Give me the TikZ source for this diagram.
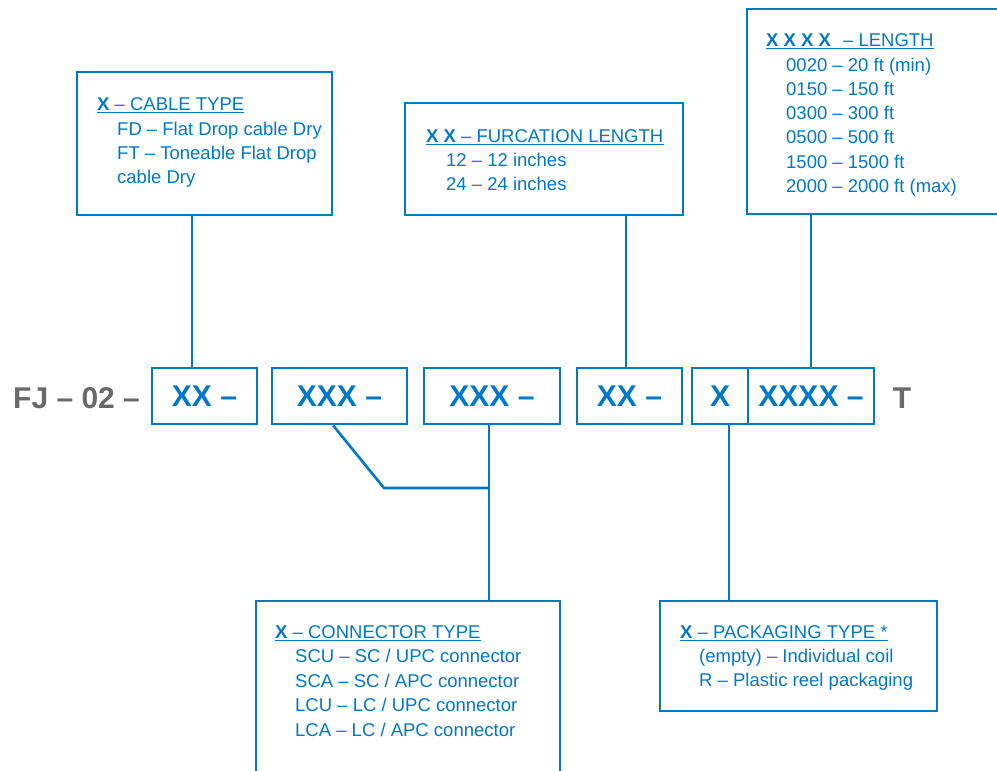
\documentclass[tikz,border=0pt]{standalone}
\usepackage{fontspec}
\setmainfont{Liberation Sans}
\definecolor{fjblue}{RGB}{0,120,200}
\definecolor{fjgray}{RGB}{105,105,105}
\begin{document}
\begin{tikzpicture}[x=1pt,y=-1pt,
  infobox/.style={draw=fjblue, line width=2.6pt, inner sep=0pt},
  rowbox/.style={draw=fjblue, line width=2.6pt, inner sep=0pt, text=fjblue,
    font=\fontsize{30}{30}\selectfont\bfseries},
  greytxt/.style={text=fjgray, inner sep=0pt, font=\fontsize{30}{30}\selectfont\bfseries},
  txt/.style={font=\fontsize{18.5}{22}\selectfont, text=fjblue, inner sep=0pt, anchor=base west},
  uline/.style={draw=fjblue, line width=1.8pt},
  link/.style={draw=fjblue, line width=2.6pt}]
\useasboundingbox (0,0) rectangle (997,771);
\clip (0,0) rectangle (997,771);

% info boxes
\node[infobox, minimum width=255pt, minimum height=143pt] (cable) at (204.5,143.5) {};
\node[infobox, minimum width=278pt, minimum height=112pt] (furc) at (544,159) {};
\node[infobox, minimum width=263pt, minimum height=205pt] (len) at (878.5,111.5) {};
\node[infobox, minimum width=304pt, minimum height=189pt] (conn) at (408,695.5) {};
\node[infobox, minimum width=277pt, minimum height=110pt] (pack) at (798.5,656) {};

% row of code boxes
\node[greytxt, anchor=base west] (fj) at (13,408) {FJ – 02 –};
\node[rowbox, minimum width=105pt, minimum height=56pt] (xx1) at (204.5,396) {XX –};
\node[rowbox, minimum width=135pt, minimum height=56pt] (xxx1) at (339.5,396) {XXX –};
\node[rowbox, minimum width=136pt, minimum height=56pt] (xxx2) at (492,396) {XXX –};
\node[rowbox, minimum width=105pt, minimum height=56pt] (xx2) at (629.5,396) {XX –};
\node[rowbox, minimum width=56pt, minimum height=56pt] (x1) at (720,396) {X};
\node[rowbox, minimum width=126pt, minimum height=56pt] (xxxx) at (811,396) {XXXX –};
\node[greytxt, anchor=base] (t) at (902,408) {T};

% cable type text
\node[txt] (h1) at (97,110) {\textbf{X} – CABLE TYPE};
\draw[uline] ([yshift=-2.5pt]h1.base west) -- ([yshift=-2.5pt]h1.base east);
\node[txt] (c1) at (117,135) {FD – Flat Drop cable Dry};
\node[txt] (c2) at (117,159) {FT – Toneable Flat Drop};
\node[txt] (c3) at (117,183) {cable Dry};

% furcation text
\node[txt] (h2) at (426,142) {\textbf{X X} – FURCATION LENGTH};
\draw[uline] ([yshift=-2.5pt]h2.base west) -- ([yshift=-2.5pt]h2.base east);
\node[txt] (f1) at (446,166) {12 – 12 inches};
\node[txt] (f2) at (446,190) {24 – 24 inches};

% length text
\node[txt] (h3) at (766,46) {\textbf{X X X X}\hspace{7pt} – LENGTH};
\draw[uline] ([yshift=-2.5pt]h3.base west) -- ([yshift=-2.5pt]h3.base east);
\node[txt] (l1) at (786,71) {0020 – 20 ft (min)};
\node[txt] (l2) at (786,95) {0150 – 150 ft};
\node[txt] (l3) at (786,119) {0300 – 300 ft};
\node[txt] (l4) at (786,143) {0500 – 500 ft};
\node[txt] (l5) at (786,168) {1500 – 1500 ft};
\node[txt] (l6) at (786,192) {2000 – 2000 ft (max)};

% connector text
\node[txt] (h4) at (275,638) {\textbf{X} – CONNECTOR TYPE};
\draw[uline] ([yshift=-2.5pt]h4.base west) -- ([yshift=-2.5pt]h4.base east);
\node[txt] (k1) at (295,662) {SCU – SC / UPC connector};
\node[txt] (k2) at (295,687) {SCA – SC / APC connector};
\node[txt] (k3) at (295,711) {LCU – LC / UPC connector};
\node[txt] (k4) at (295,736) {LCA – LC / APC connector};

% packaging text
\node[txt] (h5) at (680,638) {\textbf{X} – PACKAGING TYPE *};
\draw[uline] ([yshift=-2.5pt]h5.base west) -- ([yshift=-2.5pt]h5.base east);
\node[txt] (p1) at (699,662) {(empty) – Individual coil};
\node[txt] (p2) at (699,686) {R – Plastic reel packaging};

% connectors
\coordinate (xa) at (192,0);
\coordinate (xb) at (626,0);
\coordinate (xc) at (811,0);
\coordinate (xd) at (729,0);
\coordinate (xe) at (333,0);
\coordinate (bend) at (384,488);
\coordinate (joint) at (489,488);
\draw[link] (cable.south -| xa) -- (xx1.north -| xa);
\draw[link] (furc.south -| xb) -- (xx2.north -| xb);
\draw[link] (len.south -| xc) -- (xxxx.north -| xc);
\draw[link] (x1.south -| xd) -- (pack.north -| xd);
\draw[link] (xxx1.south -| xe) -- (bend) -- (joint);
\draw[link] (xxx2.south -| joint) -- (conn.north -| joint);
\end{tikzpicture}
\end{document}
